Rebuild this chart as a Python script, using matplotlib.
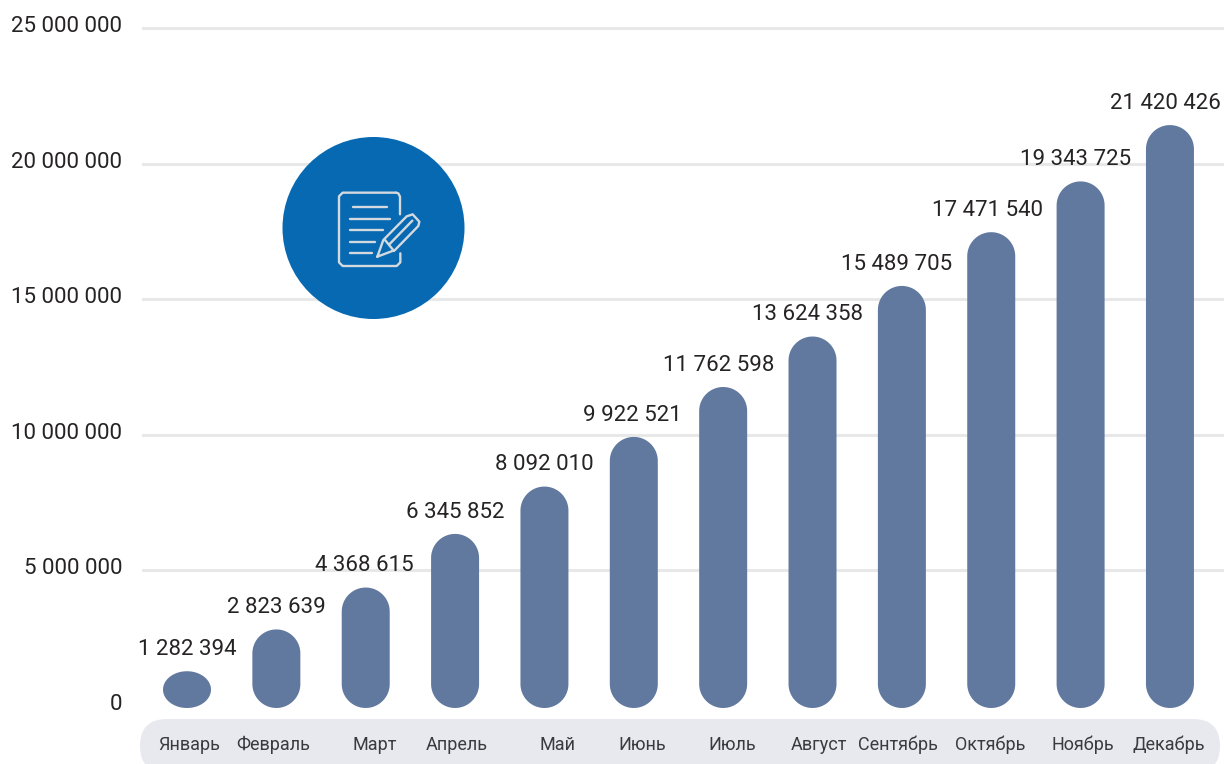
import numpy as np
import matplotlib
matplotlib.use('Agg')
import matplotlib.pyplot as plt
from matplotlib.patches import Circle, FancyBboxPatch
from matplotlib.transforms import ScaledTranslation

months = ['Январь', 'Февраль', 'Март', 'Апрель', 'Май', 'Июнь', 'Июль', 'Август',
          'Сентябрь', 'Октябрь', 'Ноябрь', 'Декабрь']
values = [1282394, 2823639, 4368615, 6345852, 8092010, 9922521, 11762598,
          13624358, 15489705, 17471540, 19343725, 21420426]
y_ticks = [0, 5000000, 10000000, 15000000, 20000000, 25000000]

BAR_COLOR = '#62799f'
TEXT_COLOR = '#262324'
W, H = 1224, 764

# pixel layout of the plot
px_x0, px_dx = 187.0, 89.36
px_y0, px_per_val = 706.0, 27.12 / 1e6
ax_left = 142

# how far month and value labels sit from their bar centre, px
month_shift = [2, -3, 9, 2, 13, 8, 9, 6, -4, -1, 2, -1]
value_shift = [0, 0, -1, 0, 0, -1, -4, -5, -5, -4, -5, -5]

plt.rcParams['font.family'] = ['Roboto', 'DejaVu Sans']
fig = plt.figure(figsize=(W / 100, H / 100), dpi=100)

# grey band behind the month names
bg = fig.add_axes([0, 0, 1, 1], zorder=0)
bg.set_xlim(0, W)
bg.set_ylim(H, 0)
bg.axis('off')
bg.add_patch(FancyBboxPatch((140, 719), 1080, 54, boxstyle='round,pad=0,rounding_size=27',
                            fc='#e8e9ef', ec='none'))

ax = fig.add_axes([ax_left / W, 0, (W - ax_left) / W, 1], zorder=1)
ax.patch.set_alpha(0)
ax.set_xlim((ax_left - px_x0) / px_dx, (W - px_x0) / px_dx)
ax.set_ylim((px_y0 - H) / px_per_val, px_y0 / px_per_val)
for s in ax.spines.values():
    s.set_visible(False)

ax.set_yticks(y_ticks)
ax.set_yticklabels([f'{v:,}'.replace(',', ' ') for v in y_ticks])
ax.tick_params(axis='y', length=0, pad=14.4, labelsize=16, labelcolor=TEXT_COLOR)
# labels sit a little above their gridline
up = ScaledTranslation(0, 4 / 100, fig.dpi_scale_trans)
for lab in ax.get_yticklabels():
    lab.set_transform(lab.get_transform() + up)
for v in y_ticks[1:]:
    ax.axhline(v, color='#e8e8e8', lw=2.2, zorder=1)

ax.set_xticks(np.arange(len(months)) + np.array(month_shift) / px_dx)
ax.set_xticklabels(months)
ax.tick_params(axis='x', direction='in', length=0, pad=-20.4, labelsize=13, labelcolor='#3b3b3d')

# pill shaped bars, 48 px wide
rx = 24 / px_dx
ry_full = 24 / px_per_val
base = -2 / px_per_val
t = np.linspace(0, np.pi, 40)
for i, v in enumerate(values):
    ry = min(ry_full, (v - base) / 2)
    xs = np.r_[i + rx * np.cos(t), i - rx * np.cos(t)]
    ys = np.r_[v - ry + ry * np.sin(t), base + ry - ry * np.sin(t)]
    ax.fill(xs, ys, color=BAR_COLOR, lw=0, zorder=2)
    ax.annotate(f'{v:,}'.replace(',', ' '), (i, v), xytext=(value_shift[i] * 0.72, 8),
                textcoords='offset points', ha='center', va='bottom',
                fontsize=16, color=TEXT_COLOR, annotation_clip=False)

# blue circle with the document icon
fg = fig.add_axes([0, 0, 1, 1], zorder=2)
fg.set_xlim(0, W)
fg.set_ylim(H, 0)
fg.axis('off')
fg.add_patch(Circle((373.5, 228), 91, fc='#0669b2', ec='none'))


def stroke(xz, yz, lw=1.7):
    # coordinates taken from the 3x crop of the icon
    fg.plot(270 + np.array(xz) / 3, 125 + np.array(yz) / 3, color='#d3d9df', lw=lw,
            solid_capstyle='round', solid_joinstyle='round')


stroke([390, 390, 385, 378], [268, 215, 205, 203])
stroke([378, 218, 207, 207, 218, 380, 391, 391], [203, 203, 214, 412, 423, 423, 412, 385])
stroke([250, 350], [245, 245])
stroke([240, 360], [282, 282])
stroke([240, 340], [316, 316])
stroke([240, 315], [350, 350])
stroke([240, 305], [384, 384])
stroke([322, 340, 410, 428, 448, 445, 375, 322], [395, 345, 274, 268, 290, 303, 375, 395])
stroke([345, 372], [345, 378])
stroke([358, 427], [358, 287])

fig.savefig('out.png', dpi=100)
